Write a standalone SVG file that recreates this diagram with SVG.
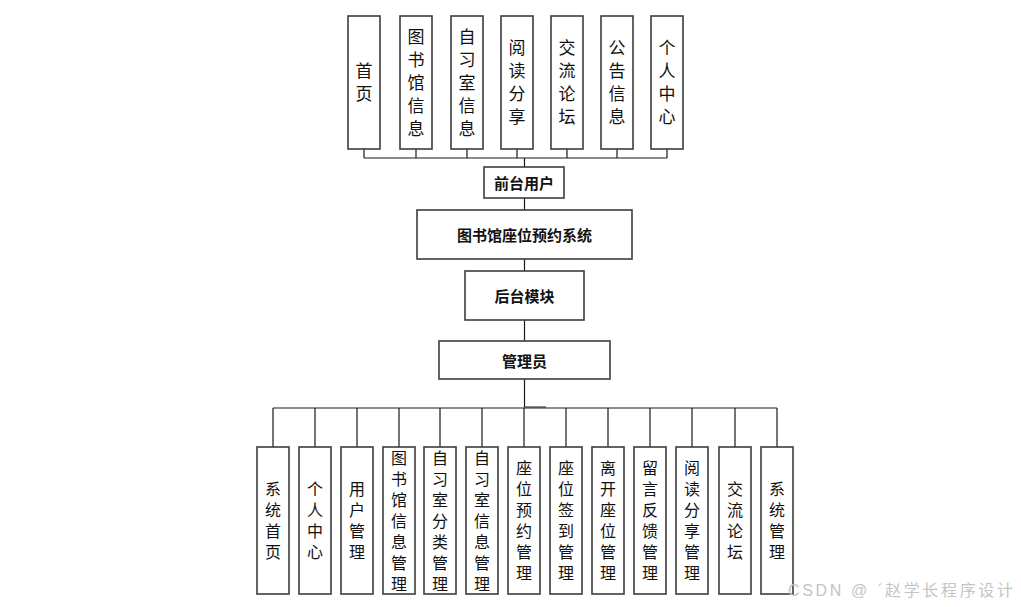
<svg xmlns="http://www.w3.org/2000/svg" width="1021" height="607" viewBox="0 0 1021 607">
<style>
.box{fill:#fff;stroke:#3c3c3c;stroke-width:1.6}
.ln{fill:none;stroke:#1a1a1a;stroke-width:1.2}
.vt{font-family:"Noto Sans CJK SC","Liberation Sans",sans-serif;font-size:17px;fill:#111;text-anchor:middle;writing-mode:vertical-rl;letter-spacing:6px}
.vb{font-family:"Noto Sans CJK SC","Liberation Sans",sans-serif;font-size:16px;fill:#111;text-anchor:middle;writing-mode:vertical-rl;letter-spacing:5px}
.ct{font-family:"Noto Sans CJK SC","Liberation Sans",sans-serif;font-size:15px;font-weight:bold;fill:#111;text-anchor:middle;dominant-baseline:central}
.wm{font-family:"Liberation Sans","Noto Sans CJK SC",sans-serif;font-size:16px;fill:#c4c4c4}
</style>
<rect width="1021" height="607" fill="#fff"/>
<g id="connectors">
<path class="ln" d="M364 149V158M416 149V158M467 149V158M517 149V158M567 149V158M617 149V158M667 149V158M364 158H667M524.5 158V167"/>
<path class="ln" d="M524.5 198V210M524.5 259V271M524.5 320V341M524.5 379V407H546"/>
<path class="ln" d="M273 408H777M273 408V447M315 408V447M357 408V447M399 408V447M440 408V447M482 408V447M524 408V447M566 408V447M608 408V447M650 408V447M692 408V447M735 408V447M777 408V447"/>
</g>
<g id="top-1"><rect class="box" x="348" y="16" width="32" height="133"/><text class="vt" x="364" y="85.5">首页</text></g>
<g id="top-2"><rect class="box" x="400" y="16" width="32" height="133"/><text class="vt" x="416" y="85.5">图书馆信息</text></g>
<g id="top-3"><rect class="box" x="451" y="16" width="32" height="133"/><text class="vt" x="467" y="85.5">自习室信息</text></g>
<g id="top-4"><rect class="box" x="501" y="16" width="32" height="133"/><text class="vt" x="517" y="85.5">阅读分享</text></g>
<g id="top-5"><rect class="box" x="551" y="16" width="32" height="133"/><text class="vt" x="567" y="85.5">交流论坛</text></g>
<g id="top-6"><rect class="box" x="601" y="16" width="32" height="133"/><text class="vt" x="617" y="85.5">公告信息</text></g>
<g id="top-7"><rect class="box" x="651" y="16" width="32" height="133"/><text class="vt" x="667" y="85.5">个人中心</text></g>
<g id="front-user"><rect class="box" x="484" y="167" width="80" height="31"/><text class="ct" x="524" y="182.5">前台用户</text></g>
<g id="system"><rect class="box" x="417" y="210" width="215" height="49"/><text class="ct" x="524.5" y="234.5">图书馆座位预约系统</text></g>
<g id="backend"><rect class="box" x="465" y="271" width="119" height="49"/><text class="ct" x="524.5" y="295.5">后台模块</text></g>
<g id="admin"><rect class="box" x="439" y="341" width="171" height="38"/><text class="ct" x="524.5" y="360">管理员</text></g>
<g id="b-1"><rect class="box" x="257" y="447" width="32" height="147"/><text class="vb" x="273" y="523">系统首页</text></g>
<g id="b-2"><rect class="box" x="299" y="447" width="32" height="147"/><text class="vb" x="315" y="523">个人中心</text></g>
<g id="b-3"><rect class="box" x="341" y="447" width="32" height="147"/><text class="vb" x="357" y="523">用户管理</text></g>
<g id="b-4"><rect class="box" x="383" y="447" width="32" height="147"/><text class="vb" x="399" y="523">图书馆信息管理</text></g>
<g id="b-5"><rect class="box" x="424" y="447" width="32" height="147"/><text class="vb" x="440" y="523">自习室分类管理</text></g>
<g id="b-6"><rect class="box" x="466" y="447" width="32" height="147"/><text class="vb" x="482" y="523">自习室信息管理</text></g>
<g id="b-7"><rect class="box" x="508" y="447" width="32" height="147"/><text class="vb" x="524" y="523">座位预约管理</text></g>
<g id="b-8"><rect class="box" x="550" y="447" width="32" height="147"/><text class="vb" x="566" y="523">座位签到管理</text></g>
<g id="b-9"><rect class="box" x="592" y="447" width="32" height="147"/><text class="vb" x="608" y="523">离开座位管理</text></g>
<g id="b-10"><rect class="box" x="634" y="447" width="32" height="147"/><text class="vb" x="650" y="523">留言反馈管理</text></g>
<g id="b-11"><rect class="box" x="676" y="447" width="32" height="147"/><text class="vb" x="692" y="523">阅读分享管理</text></g>
<g id="b-12"><rect class="box" x="719" y="447" width="32" height="147"/><text class="vb" x="735" y="523">交流论坛</text></g>
<g id="b-13"><rect class="box" x="761" y="447" width="32" height="147"/><text class="vb" x="777" y="523">系统管理</text></g>
<text class="wm" x="788" y="596" textLength="225" lengthAdjust="spacing">CSDN @ ˊ赵学长程序设计</text>
</svg>
